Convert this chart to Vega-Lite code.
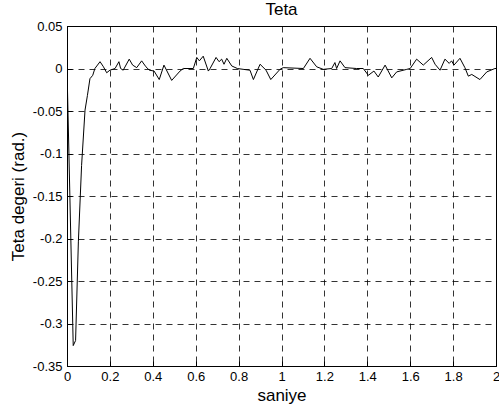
{
  "$schema": "https://vega.github.io/schema/vega-lite/v6.json",
  "width": 429,
  "height": 340,
  "autosize": {"type": "none"},
  "padding": {"left": 67, "top": 26, "right": 3, "bottom": 49},
  "background": "white",
  "config": {
    "font": "Liberation Sans",
    "view": {"stroke": "black", "strokeWidth": 1},
    "axis": {
      "domainColor": "black",
      "tickColor": "black",
      "labelColor": "black",
      "titleColor": "black",
      "gridColor": "black",
      "gridDash": [6, 5],
      "gridOpacity": 0.8,
      "gridWidth": 1,
      "tickSize": -5,
      "labelFontSize": 13,
      "titleFontSize": 17,
      "titleFontWeight": "normal"
    }
  },
  "title": {"text": "Teta", "fontSize": 17, "fontWeight": "normal", "color": "black", "offset": 1},
  "data": {
    "values": [
      {"t": 0, "v": 0},
      {"t": 0.029, "v": -0.326},
      {"t": 0.04, "v": -0.32},
      {"t": 0.053, "v": -0.204},
      {"t": 0.068, "v": -0.114},
      {"t": 0.084, "v": -0.049},
      {"t": 0.095, "v": -0.032},
      {"t": 0.107, "v": -0.012},
      {"t": 0.12, "v": -0.008},
      {"t": 0.13, "v": 0},
      {"t": 0.154, "v": 0.008},
      {"t": 0.17, "v": 0.002},
      {"t": 0.185, "v": -0.005},
      {"t": 0.2, "v": -0.002},
      {"t": 0.224, "v": 0},
      {"t": 0.242, "v": 0.008},
      {"t": 0.25, "v": 0},
      {"t": 0.262, "v": -0.002},
      {"t": 0.29, "v": 0.011},
      {"t": 0.306, "v": 0.004},
      {"t": 0.325, "v": 0.001},
      {"t": 0.348, "v": 0.009},
      {"t": 0.368, "v": 0.002},
      {"t": 0.384, "v": -0.002},
      {"t": 0.406, "v": -0.003},
      {"t": 0.43, "v": -0.013},
      {"t": 0.452, "v": 0.004},
      {"t": 0.488, "v": -0.014},
      {"t": 0.527, "v": -0.003},
      {"t": 0.542, "v": 0},
      {"t": 0.589, "v": 0},
      {"t": 0.605, "v": 0.013},
      {"t": 0.617, "v": 0.009},
      {"t": 0.635, "v": 0.0145},
      {"t": 0.659, "v": -0.003},
      {"t": 0.667, "v": 0},
      {"t": 0.695, "v": 0.013},
      {"t": 0.709, "v": 0.008},
      {"t": 0.721, "v": 0.011},
      {"t": 0.732, "v": 0.005},
      {"t": 0.745, "v": 0.012},
      {"t": 0.768, "v": 0.003},
      {"t": 0.794, "v": 0},
      {"t": 0.822, "v": -0.001},
      {"t": 0.853, "v": -0.002},
      {"t": 0.869, "v": -0.013},
      {"t": 0.9, "v": 0.005},
      {"t": 0.928, "v": -0.002},
      {"t": 0.95, "v": -0.013},
      {"t": 0.993, "v": -0.001},
      {"t": 1.008, "v": 0.001},
      {"t": 1.102, "v": 0},
      {"t": 1.133, "v": 0.012},
      {"t": 1.164, "v": 0.002},
      {"t": 1.195, "v": -0.001},
      {"t": 1.234, "v": 0},
      {"t": 1.249, "v": 0.007},
      {"t": 1.257, "v": 0},
      {"t": 1.273, "v": 0.009},
      {"t": 1.296, "v": 0.001},
      {"t": 1.35, "v": 0},
      {"t": 1.381, "v": 0},
      {"t": 1.405, "v": -0.008},
      {"t": 1.431, "v": -0.003},
      {"t": 1.451, "v": -0.01},
      {"t": 1.483, "v": 0.004},
      {"t": 1.514, "v": -0.011},
      {"t": 1.537, "v": -0.004},
      {"t": 1.584, "v": -0.001},
      {"t": 1.6, "v": 0},
      {"t": 1.63, "v": 0.011},
      {"t": 1.661, "v": 0.004},
      {"t": 1.7, "v": 0.013},
      {"t": 1.716, "v": 0.005},
      {"t": 1.739, "v": -0.002},
      {"t": 1.762, "v": 0.011},
      {"t": 1.782, "v": 0.006},
      {"t": 1.793, "v": 0.009},
      {"t": 1.804, "v": 0.004},
      {"t": 1.832, "v": 0.012},
      {"t": 1.855, "v": 0.001},
      {"t": 1.871, "v": -0.009},
      {"t": 1.887, "v": -0.007},
      {"t": 1.925, "v": -0.013},
      {"t": 1.957, "v": -0.004},
      {"t": 1.995, "v": 0},
      {"t": 2.0, "v": 0}
    ]
  },
  "mark": {"type": "line", "color": "black", "strokeWidth": 1, "clip": true},
  "encoding": {
    "x": {
      "field": "t",
      "type": "quantitative",
      "scale": {"domain": [0, 2], "nice": false, "zero": false},
      "axis": {
        "title": "saniye",
        "values": [0, 0.2, 0.4, 0.6, 0.8, 1, 1.2, 1.4, 1.6, 1.8, 2],
        "labelExpr": "format(datum.value, '.1~f')",
        "labelPadding": 9,
        "titlePadding": 4,
        "labelFlush": false,
        "labelOverlap": false
      }
    },
    "y": {
      "field": "v",
      "type": "quantitative",
      "scale": {"domain": [-0.35, 0.05], "nice": false, "zero": false},
      "axis": {
        "title": "Teta degeri (rad.)",
        "values": [-0.35, -0.3, -0.25, -0.2, -0.15, -0.1, -0.05, 0, 0.05],
        "labelExpr": "replace(format(datum.value, '.2~f'), '\u2212', '-')",
        "labelPadding": 10,
        "titlePadding": 5,
        "labelFlush": false,
        "labelOverlap": false
      }
    }
  }
}
